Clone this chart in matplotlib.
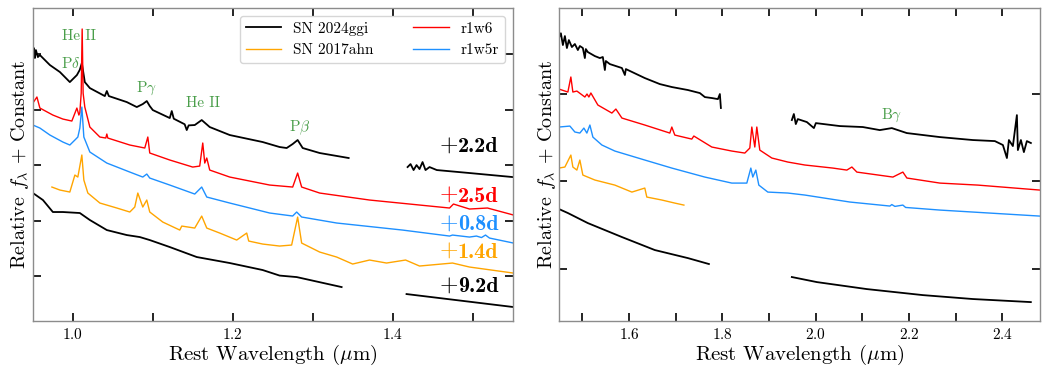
import matplotlib
matplotlib.use("Agg")
import matplotlib.pyplot as plt
from matplotlib.ticker import MultipleLocator

plt.rcParams["font.family"] = "serif"
plt.rcParams["font.serif"] = ["cmr10"]
plt.rcParams["mathtext.fontset"] = "cm"
plt.rcParams["axes.formatter.use_mathtext"] = True

# ---- colours
C_GGI = "black"
C_AHN = "orange"
C_R1W6 = "red"
C_R1W5R = "#1e90ff"
C_LINE = "#4a9e4a"

# ==== Left panel (0.95 - 1.55 um) ====
# SN 2024ggi +2.2d
ggi22_L1_wl = [0.9505, 0.9517, 0.9530, 0.9542, 0.9567, 0.9592, 0.9717, 0.9842, 0.9966, 1.0054,
               1.0090, 1.0116, 1.0153, 1.0216, 1.0403, 1.0428, 1.0453, 1.0677, 1.0802, 1.0877,
               1.0927, 1.0964, 1.1002, 1.1214, 1.1239, 1.1264, 1.1400, 1.1426, 1.1450, 1.1526,
               1.1613, 1.1713, 1.1963, 1.2374, 1.2586, 1.2674, 1.2749, 1.2811, 1.2874, 1.3086,
               1.3448]
ggi22_L1_fl = [5.023, 5.113, 4.933, 5.077, 4.951, 4.987, 4.807, 4.681, 4.500, 4.626,
               4.720, 4.843, 4.500, 4.392, 4.248, 4.339, 4.248, 4.140, 4.050, 4.104,
               4.158, 4.068, 3.996, 3.852, 3.978, 3.840, 3.740, 3.636, 3.720, 3.726,
               3.816, 3.690, 3.546, 3.420, 3.330, 3.312, 3.384, 3.456, 3.312, 3.222,
               3.132]
ggi22_L2_wl = [1.4184, 1.4221, 1.4259, 1.4296, 1.4333, 1.4371, 1.4408, 1.4458, 1.4549, 1.4961, 1.5496]
ggi22_L2_fl = [2.969, 3.023, 2.915, 3.005, 2.933, 3.059, 2.915, 2.969, 2.915, 2.861, 2.789]

# r1w6 model
r1w6_L_wl = [0.9505, 0.9555, 0.9592, 0.9754, 0.9879, 0.9991, 1.0054, 1.0079, 1.0091, 1.0108,
             1.0120, 1.0132, 1.0153, 1.0216, 1.0341, 1.0415, 1.0428, 1.0440, 1.0715, 1.0902,
             1.0940, 1.0964, 1.1214, 1.1501, 1.1588, 1.1626, 1.1651, 1.1676, 1.1713, 1.1963,
             1.2462, 1.2749, 1.2811, 1.2861, 1.3086, 1.3709, 1.4333, 1.4708, 1.4757, 1.4957,
             1.5182, 1.5506]
r1w6_L_fl = [4.123, 4.231, 4.032, 3.906, 3.834, 3.798, 4.032, 3.906, 3.950, 4.300,
             5.456, 4.300, 4.050, 3.690, 3.510, 3.492, 3.564, 3.492, 3.366, 3.312,
             3.510, 3.222, 3.096, 2.969, 2.987, 3.402, 3.041, 3.132, 2.915, 2.789,
             2.645, 2.609, 2.861, 2.609, 2.501, 2.375, 2.285, 2.231, 2.303, 2.213,
             2.231, 2.105]

# r1w5r model
r1w5r_L_wl = [0.9505, 0.9592, 0.9717, 0.9879, 0.9966, 1.0029, 1.0066, 1.0091, 1.0116, 1.0141,
              1.0216, 1.0428, 1.0715, 1.0877, 1.0927, 1.0964, 1.1214, 1.1526, 1.1613, 1.1676,
              1.1963, 1.2462, 1.2749, 1.2799, 1.2861, 1.3298, 1.4121, 1.4708, 1.4745, 1.4957,
              1.5044, 1.5107, 1.5157, 1.5207, 1.5506]
r1w5r_L_fl = [3.726, 3.672, 3.546, 3.420, 3.366, 3.456, 3.510, 3.672, 4.050, 3.510,
              3.240, 3.041, 2.879, 2.789, 2.843, 2.771, 2.645, 2.483, 2.609, 2.429,
              2.321, 2.141, 2.087, 2.159, 2.069, 1.961, 1.834, 1.726, 1.744, 1.708,
              1.726, 1.699, 1.744, 1.690, 1.600]

# SN 2017ahn +1.4d
ahn_L_wl = [0.9742, 0.9842, 0.9966, 1.0029, 1.0066, 1.0116, 1.0141, 1.0191, 1.0341, 1.0553,
            1.0715, 1.0777, 1.0815, 1.0877, 1.0927, 1.0964, 1.1127, 1.1339, 1.1364, 1.1526,
            1.1613, 1.1676, 1.1838, 1.2050, 1.2175, 1.2200, 1.2374, 1.2586, 1.2736, 1.2811,
            1.2861, 1.3086, 1.3298, 1.3498, 1.3709, 1.3921, 1.4159, 1.4333, 1.4745, 1.4957,
            1.5506]
ahn_L_fl = [2.609, 2.555, 2.519, 2.825, 2.789, 3.186, 2.735, 2.501, 2.321, 2.231,
            2.159, 2.249, 2.501, 2.249, 2.375, 2.159, 1.978, 1.834, 1.906, 1.870,
            2.086, 1.870, 1.780, 1.654, 1.780, 1.636, 1.582, 1.546, 1.564, 2.068,
            1.600, 1.438, 1.348, 1.222, 1.294, 1.240, 1.294, 1.186, 1.240, 1.168,
            1.059]

# SN 2024ggi +9.2d
ggi92_L1_wl = [0.9505, 0.9630, 0.9754, 0.9879, 1.0091, 1.0216, 1.0428, 1.0677, 1.0840, 1.0964,
               1.1214, 1.1551, 1.1963, 1.2374, 1.2586, 1.2799, 1.3360]
ggi92_L1_fl = [2.501, 2.375, 2.159, 2.159, 2.141, 2.015, 1.834, 1.744, 1.708, 1.654,
               1.528, 1.348, 1.240, 1.114, 1.014, 0.987, 0.807]
ggi92_L2_wl = [1.4171, 1.5506]
ggi92_L2_fl = [0.681, 0.447]

# ==== Right panel (1.45 - 2.48 um) ====
ggi22_R1_wl = [1.4497, 1.4540, 1.4583, 1.4626, 1.4669, 1.4711, 1.4776, 1.4840, 1.4904, 1.4947,
               1.5011, 1.5054, 1.5075, 1.5117, 1.5267, 1.5375, 1.5439, 1.5483, 1.5504, 1.5590,
               1.5848, 1.5912, 1.5933, 1.6339, 1.6661, 1.6920, 1.7262, 1.7519, 1.7627, 1.7777,
               1.7906, 1.7948, 1.7970]
ggi22_R1_fl = [3.640, 3.695, 3.560, 3.663, 3.526, 3.617, 3.537, 3.572, 3.503, 3.549,
               3.526, 3.411, 3.514, 3.480, 3.434, 3.411, 3.423, 3.274, 3.377, 3.342,
               3.297, 3.217, 3.285, 3.182, 3.113, 3.079, 3.045, 3.010, 2.964, 2.953,
               2.941, 2.999, 2.839]
ggi22_R2_wl = [1.9491, 1.9534, 1.9576, 1.9619, 1.9813, 1.9964, 2.0006, 2.0521, 2.1012, 2.1376,
               2.1634, 2.1955, 2.2663, 2.3371, 2.3843, 2.4015, 2.4101, 2.4144, 2.4229, 2.4315,
               2.4336, 2.4401, 2.4465, 2.4529, 2.4615]
ggi22_R2_fl = [2.701, 2.770, 2.655, 2.712, 2.678, 2.609, 2.666, 2.632, 2.621, 2.586,
               2.609, 2.552, 2.506, 2.472, 2.460, 2.415, 2.266, 2.472, 2.403, 2.758,
               2.357, 2.472, 2.334, 2.460, 2.438]

r1w6_R_wl = [1.4498, 1.4690, 1.4754, 1.4797, 1.4883, 1.5054, 1.5100, 1.5140, 1.5183, 1.5333,
             1.5633, 1.5719, 1.5848, 1.6339, 1.6875, 1.6918, 1.6982, 1.7346, 1.7390, 1.7775,
             1.8204, 1.8483, 1.8590, 1.8633, 1.8697, 1.8740, 1.8804, 1.9062, 1.9405, 1.9770,
             2.0370, 2.0670, 2.0778, 2.0885, 2.1657, 2.1871, 2.1957, 2.2665, 2.3479, 2.4808]
r1w6_R_fl = [3.056, 3.022, 3.194, 3.022, 3.033, 2.965, 2.999, 2.965, 3.011, 2.873,
             2.781, 2.827, 2.724, 2.644, 2.552, 2.621, 2.529, 2.483, 2.518, 2.392,
             2.346, 2.323, 2.380, 2.621, 2.392, 2.621, 2.357, 2.266, 2.220, 2.186,
             2.151, 2.128, 2.163, 2.105, 2.048, 2.105, 2.037, 1.979, 1.956, 1.899]

r1w5r_R_wl = [1.4498, 1.4733, 1.4840, 1.4947, 1.5033, 1.5097, 1.5162, 1.5226, 1.5419, 1.5697,
              1.6339, 1.6918, 1.7626, 1.8204, 1.8526, 1.8612, 1.8654, 1.8719, 1.8783, 1.8976,
              1.9405, 1.9770, 2.0735, 2.1593, 2.1634, 2.1700, 2.1871, 2.1930, 2.2665, 2.4808]
r1w5r_R_fl = [2.621, 2.632, 2.564, 2.552, 2.609, 2.552, 2.644, 2.506, 2.415, 2.346,
              2.243, 2.151, 2.048, 1.979, 1.979, 2.151, 2.048, 2.128, 1.956, 1.876,
              1.865, 1.842, 1.762, 1.716, 1.733, 1.712, 1.727, 1.700, 1.670, 1.601]

ahn_R_wl = [1.4498, 1.4626, 1.4754, 1.4797, 1.4883, 1.4947, 1.5011, 1.5269, 1.5697, 1.6062,
            1.6339, 1.6382, 1.6704, 1.6982, 1.7177]
ahn_R_fl = [2.151, 2.163, 2.300, 2.163, 2.128, 2.243, 2.071, 2.014, 1.956, 1.876,
            1.922, 1.819, 1.785, 1.750, 1.727]

ggi92_R1_wl = [1.4498, 1.4690, 1.5117, 1.5848, 1.6554, 1.7262, 1.7713]
ggi92_R1_fl = [1.682, 1.636, 1.521, 1.361, 1.212, 1.120, 1.052]
ggi92_R2_wl = [1.9491, 2.0028, 2.1098, 2.2299, 2.3371, 2.4614]
ggi92_R2_fl = [0.903, 0.845, 0.765, 0.696, 0.651, 0.616]

# line identifications (label, wavelength, height)
left_ids = [("He II", 1.0085, 5.33), (r"P$\delta$", 0.998, 4.84), (r"P$\gamma$", 1.0927, 4.39),
            ("He II", 1.1628, 4.12), (r"P$\beta$", 1.284, 3.67)]
right_ids = [(r"B$\gamma$", 2.163, 2.76)]

# epoch labels (text, colour, height)
epochs = [("2.2d", C_GGI, 3.346), ("2.5d", C_R1W6, 2.447),
          ("0.8d", C_R1W5R, 1.942), ("1.4d", C_AHN, 1.438),
          ("9.2d", C_GGI, 0.825)]


def style_axes(ax, xlim, ylim, yticks):
    ax.set_xlim(*xlim)
    ax.set_ylim(*ylim)
    ax.xaxis.set_major_locator(MultipleLocator(0.2))
    ax.xaxis.set_minor_locator(MultipleLocator(0.1))
    ax.set_yticks(yticks)
    ax.tick_params(which="both", direction="in", top=True, right=True,
                   length=6, width=1.2, labelsize=11, pad=4)
    ax.tick_params(axis="y", labelleft=False)
    for s in ax.spines.values():
        s.set_color("0.55")
        s.set_linewidth(1.0)
    ax.set_xlabel(r"Rest Wavelength ($\mu$m)", fontsize=15, labelpad=1)
    ax.set_ylabel(r"Relative $f_\lambda$ + Constant", fontsize=14.5, labelpad=1)


fig = plt.figure(figsize=(10.49, 3.72), dpi=100)
axL = fig.add_axes([0.031, 0.137, 0.458, 0.8414])
axR = fig.add_axes([0.5329, 0.137, 0.4585, 0.8414])

lw = 1.0
lw_obs = 1.3
axL.plot(ggi22_L1_wl, ggi22_L1_fl, color=C_GGI, lw=lw_obs, label="SN 2024ggi")
axL.plot(ggi22_L2_wl, ggi22_L2_fl, color=C_GGI, lw=lw_obs)
axL.plot(ahn_L_wl, ahn_L_fl, color=C_AHN, lw=lw, label="SN 2017ahn")
axL.plot(r1w6_L_wl, r1w6_L_fl, color=C_R1W6, lw=lw, label="r1w6")
axL.plot(r1w5r_L_wl, r1w5r_L_fl, color=C_R1W5R, lw=lw, label="r1w5r")
axL.plot(ggi92_L1_wl, ggi92_L1_fl, color=C_GGI, lw=lw_obs)
axL.plot(ggi92_L2_wl, ggi92_L2_fl, color=C_GGI, lw=lw_obs)

axR.plot(ggi22_R1_wl, ggi22_R1_fl, color=C_GGI, lw=lw_obs)
axR.plot(ggi22_R2_wl, ggi22_R2_fl, color=C_GGI, lw=lw_obs)
axR.plot(r1w6_R_wl, r1w6_R_fl, color=C_R1W6, lw=lw)
axR.plot(r1w5r_R_wl, r1w5r_R_fl, color=C_R1W5R, lw=lw)
axR.plot(ahn_R_wl, ahn_R_fl, color=C_AHN, lw=lw)
axR.plot(ggi92_R1_wl, ggi92_R1_fl, color=C_GGI, lw=lw_obs)
axR.plot(ggi92_R2_wl, ggi92_R2_fl, color=C_GGI, lw=lw_obs)

for label, wl, h in left_ids:
    axL.text(wl, h, label, color=C_LINE, fontsize=11, ha="center", va="center")
for label, wl, h in right_ids:
    axR.text(wl, h, label, color=C_LINE, fontsize=11, ha="center", va="center")

# bold epoch, thin plus sign in front of it
for text, col, h in epochs:
    t = axL.text(1.532, h, text, color=col, fontsize=16, family="cmb10",
                 ha="right", va="center")
    axL.annotate("+", xy=(0, 0.5), xycoords=t, color=col, fontsize=17,
                 ha="right", va="center")

style_axes(axL, (0.95, 1.55), (0.195, 5.834), [1, 2, 3, 4, 5])
style_axes(axR, (1.45, 2.481), (0.399, 3.984), [1, 2, 3])

axL.legend(ncol=2, loc="upper right", fontsize=11, handlelength=2.3,
           columnspacing=2.6, borderaxespad=0.5)

fig.savefig("out.png", dpi=100)
